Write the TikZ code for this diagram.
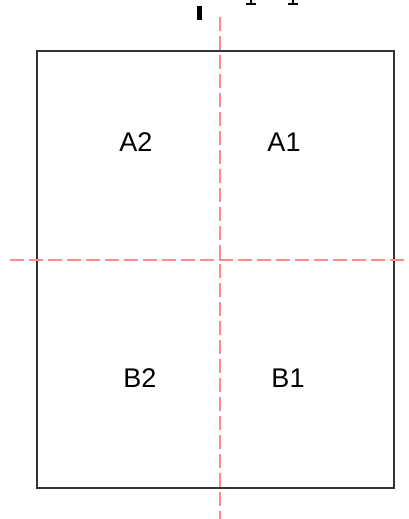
\documentclass[tikz,border=0pt]{standalone}
\usepackage{fontspec}
\setmainfont{Liberation Sans}
\begin{document}
\begin{tikzpicture}[x=1pt,y=-1pt,
  frame/.style={draw=black!80,line width=1.8pt},
  axis/.style={draw=red!45,line width=1.6pt,dash pattern=on 14pt off 5pt},
  lbl/.style={font=\fontsize{27}{31}\selectfont,text=black,inner sep=0pt},
  frag/.style={fill=black}]
\useasboundingbox (0,0) rectangle (409,519);
\coordinate (tl) at (37,51);
\coordinate (br) at (394,488);
\draw[frame] (tl) rectangle (br);
\coordinate (vt) at (220,17);
\coordinate (vb) at (220,519);
\coordinate (hl) at (10,260);
\coordinate (hr) at (409,260);
\draw[axis] (vt) -- (vb);
\draw[axis] (hl) -- (hr);
\node[lbl] (a2) at (136,142) {A2};
\node[lbl] (a1) at (284,142) {A1};
\node[lbl] (b2) at (140,378) {B2};
\node[lbl] (b1) at (288,378) {B1};
% clipped fragments at the top edge
\fill[frag] (196.5,6) rectangle (202,20);
\fill[frag] (250,0) rectangle (252,4);
\fill[frag] (246,3.5) rectangle (256,5);
\fill[frag] (292,0) rectangle (294,4);
\fill[frag] (288,3.5) rectangle (298,5);
\end{tikzpicture}
\end{document}
